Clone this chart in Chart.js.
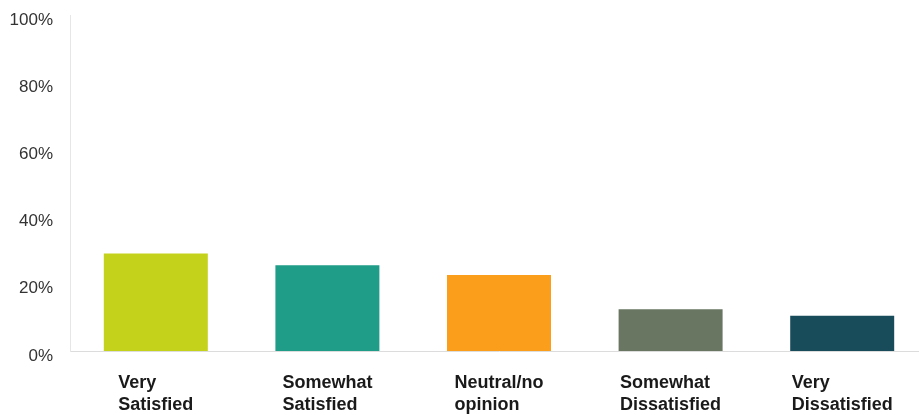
<!DOCTYPE html>
<html>
<head>
<meta charset="utf-8">
<script src="https://cdn.jsdelivr.net/npm/chart.js@4/dist/chart.umd.min.js"></script>
<style>
  html, body { margin: 0; padding: 0; background: #fff; overflow: hidden; }
  #wrap { width: 940px; height: 415px; }
</style>
</head>
<body>
<div id="wrap"><canvas id="myChart" width="940" height="415"></canvas></div>
<script>
var categories = [
  ["Very", "Satisfied"],
  ["Somewhat", "Satisfied"],
  ["Neutral/no", "opinion"],
  ["Somewhat", "Dissatisfied"],
  ["Very", "Dissatisfied"]
];
var percentValues = [29.0, 25.5, 22.6, 12.4, 10.5];
var yTicks = [0, 20, 40, 60, 80, 100];
var barColors = ["#c5d21b", "#1f9d88", "#fb9e1c", "#697662", "#184c5b"];

// labels are drawn here so each block is centered but its lines left-aligned
const labelPlugin = {
  id: "blockLabels",
  afterDraw(chart) {
    const ctx = chart.ctx;
    const xScale = chart.scales.x;
    const bottom = chart.chartArea.bottom;
    ctx.save();
    ctx.font = "bold 18px 'Liberation Sans', Arial, sans-serif";
    ctx.fillStyle = "#1a1a1a";
    ctx.textBaseline = "middle";
    ctx.textAlign = "left";
    categories.forEach(function (lines, i) {
      var cx = xScale.getPixelForValue(i);
      var w = Math.max.apply(null, lines.map(function (l) { return ctx.measureText(l).width; }));
      lines.forEach(function (line, j) {
        ctx.fillText(line, cx - w / 2, bottom + 32 + j * 22);
      });
    });
    ctx.restore();
  }
};

const data = {
  labels: categories.map(function (c) { return c.join(" "); }),
  datasets: [
    {
      data: percentValues,
      backgroundColor: barColors,
      barPercentage: 0.606,
      categoryPercentage: 1.0
    }
  ]
};

const config = {
  type: "bar",
  data: data,
  options: {
    responsive: false,
    animation: false,
    layout: { padding: { top: 15, right: 12, left: 0, bottom: 0 } },
    plugins: {
      legend: { display: false },
      tooltip: { enabled: false }
    },
    scales: {
      x: {
        grid: { display: false, drawTicks: false },
        border: { display: true, color: "#dcdcdc", width: 1 },
        ticks: { display: false },
        afterFit: function (scale) { scale.height = 64; }
      },
      y: {
        min: 0,
        max: 100,
        afterBuildTicks: function (scale) {
          scale.ticks = yTicks.map(function (v) { return { value: v }; });
        },
        grid: { display: false, drawTicks: false },
        border: { display: true, color: "#e6e6e6", width: 1 },
        ticks: {
          padding: 17,
          labelOffset: 5,
          color: "#333",
          font: { family: "'Liberation Sans', Arial, sans-serif", size: 17 },
          callback: function (v) { return v + "%"; }
        },
        afterFit: function (scale) {
          scale.width = 70;
          scale.paddingTop = 0;
          scale.paddingBottom = 0;
        }
      }
    }
  },
  plugins: [labelPlugin]
};

const satisfactionChart = new Chart(document.getElementById("myChart"), config);
</script>
</body>
</html>
